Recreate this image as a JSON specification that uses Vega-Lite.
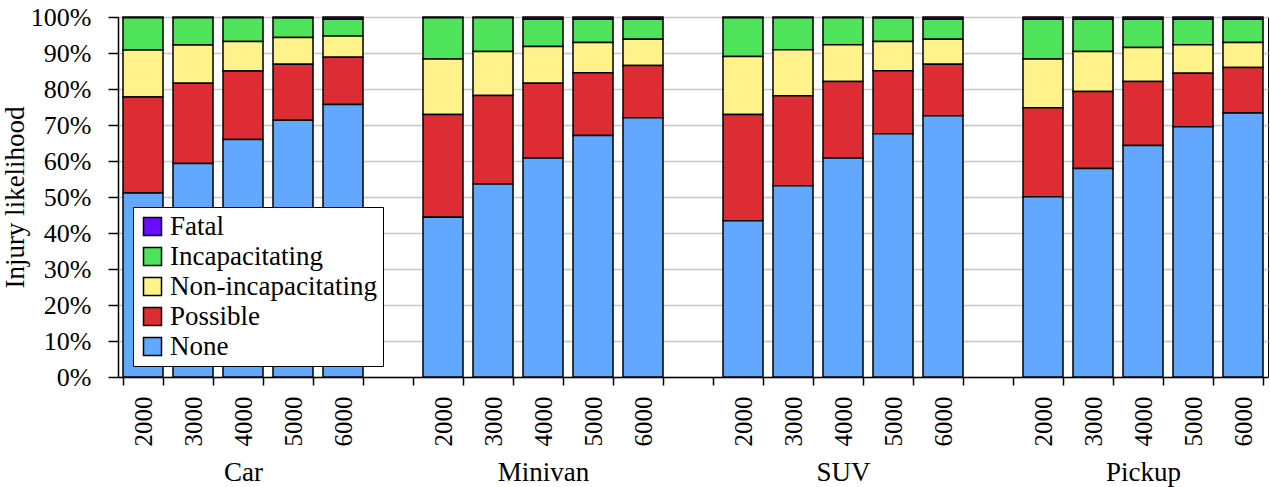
{
  "$schema": "https://vega.github.io/schema/vega-lite/v6.json",
  "width": 1150,
  "height": 360,
  "autosize": {"type": "none"},
  "padding": {"left": 118, "top": 17, "right": 2, "bottom": 110},
  "config": {
    "font": "Liberation Serif, Times New Roman, serif",
    "view": {"stroke": "#000", "strokeWidth": 1},
    "axis": {
      "labelFont": "Liberation Serif, Times New Roman, serif",
      "titleFont": "Liberation Serif, Times New Roman, serif",
      "labelColor": "#000",
      "titleColor": "#000",
      "domainColor": "#000",
      "tickColor": "#000"
    },
    "legend": {
      "labelFont": "Liberation Serif, Times New Roman, serif"
    }
  },
  "datasets": {
    "levels": [
      {"severity": "None", "level": 0},
      {"severity": "Possible", "level": 1},
      {"severity": "Non-incapacitating", "level": 2},
      {"severity": "Incapacitating", "level": 3},
      {"severity": "Fatal", "level": 4}
    ]
  },
  "data": {
    "values": [
      {"vehicle": "Car", "slot": "Car 2000", "None": 51.1, "Possible": 26.7, "Non-incapacitating": 13.0, "Incapacitating": 9.0, "Fatal": 0.2},
      {"vehicle": "Car", "slot": "Car 3000", "None": 59.3, "Possible": 22.3, "Non-incapacitating": 10.6, "Incapacitating": 7.6, "Fatal": 0.2},
      {"vehicle": "Car", "slot": "Car 4000", "None": 66.0, "Possible": 19.0, "Non-incapacitating": 8.2, "Incapacitating": 6.6, "Fatal": 0.2},
      {"vehicle": "Car", "slot": "Car 5000", "None": 71.3, "Possible": 15.6, "Non-incapacitating": 7.4, "Incapacitating": 5.4, "Fatal": 0.3},
      {"vehicle": "Car", "slot": "Car 6000", "None": 75.7, "Possible": 13.1, "Non-incapacitating": 5.9, "Incapacitating": 4.7, "Fatal": 0.6},
      {"vehicle": "Minivan", "slot": "Minivan 2000", "None": 44.4, "Possible": 28.5, "Non-incapacitating": 15.4, "Incapacitating": 11.5, "Fatal": 0.2},
      {"vehicle": "Minivan", "slot": "Minivan 3000", "None": 53.6, "Possible": 24.6, "Non-incapacitating": 12.2, "Incapacitating": 9.4, "Fatal": 0.2},
      {"vehicle": "Minivan", "slot": "Minivan 4000", "None": 60.8, "Possible": 20.8, "Non-incapacitating": 10.2, "Incapacitating": 7.6, "Fatal": 0.6},
      {"vehicle": "Minivan", "slot": "Minivan 5000", "None": 67.1, "Possible": 17.4, "Non-incapacitating": 8.4, "Incapacitating": 6.5, "Fatal": 0.6},
      {"vehicle": "Minivan", "slot": "Minivan 6000", "None": 72.0, "Possible": 14.5, "Non-incapacitating": 7.3, "Incapacitating": 5.6, "Fatal": 0.6},
      {"vehicle": "SUV", "slot": "SUV 2000", "None": 43.4, "Possible": 29.5, "Non-incapacitating": 16.1, "Incapacitating": 10.8, "Fatal": 0.2},
      {"vehicle": "SUV", "slot": "SUV 3000", "None": 53.1, "Possible": 25.0, "Non-incapacitating": 12.8, "Incapacitating": 8.9, "Fatal": 0.2},
      {"vehicle": "SUV", "slot": "SUV 4000", "None": 60.8, "Possible": 21.3, "Non-incapacitating": 10.2, "Incapacitating": 7.5, "Fatal": 0.2},
      {"vehicle": "SUV", "slot": "SUV 5000", "None": 67.6, "Possible": 17.5, "Non-incapacitating": 8.1, "Incapacitating": 6.5, "Fatal": 0.3},
      {"vehicle": "SUV", "slot": "SUV 6000", "None": 72.6, "Possible": 14.3, "Non-incapacitating": 6.9, "Incapacitating": 5.6, "Fatal": 0.6},
      {"vehicle": "Pickup", "slot": "Pickup 2000", "None": 50.1, "Possible": 24.7, "Non-incapacitating": 13.5, "Incapacitating": 11.1, "Fatal": 0.6},
      {"vehicle": "Pickup", "slot": "Pickup 3000", "None": 57.9, "Possible": 21.4, "Non-incapacitating": 11.1, "Incapacitating": 9.0, "Fatal": 0.6},
      {"vehicle": "Pickup", "slot": "Pickup 4000", "None": 64.3, "Possible": 17.8, "Non-incapacitating": 9.4, "Incapacitating": 7.9, "Fatal": 0.6},
      {"vehicle": "Pickup", "slot": "Pickup 5000", "None": 69.5, "Possible": 14.9, "Non-incapacitating": 7.9, "Incapacitating": 7.1, "Fatal": 0.6},
      {"vehicle": "Pickup", "slot": "Pickup 6000", "None": 73.3, "Possible": 12.7, "Non-incapacitating": 6.9, "Incapacitating": 6.5, "Fatal": 0.6}
    ]
  },
  "layer": [
    {
      "transform": [
        {"fold": ["Fatal", "Incapacitating", "Non-incapacitating", "Possible", "None"], "as": ["severity", "value"]},
        {"lookup": "severity", "from": {"data": {"name": "levels"}, "key": "severity", "fields": ["level"]}}
      ],
      "mark": {"type": "bar", "stroke": "#000", "strokeWidth": 1.5},
      "encoding": {
        "x": {
          "field": "slot",
          "type": "nominal",
          "scale": {
            "domain": ["Car 2000", "Car 3000", "Car 4000", "Car 5000", "Car 6000", "gap1",
                       "Minivan 2000", "Minivan 3000", "Minivan 4000", "Minivan 5000", "Minivan 6000", "gap2",
                       "SUV 2000", "SUV 3000", "SUV 4000", "SUV 5000", "SUV 6000", "gap3",
                       "Pickup 2000", "Pickup 3000", "Pickup 4000", "Pickup 5000", "Pickup 6000"],
            "paddingInner": 0.2,
            "paddingOuter": 0.1
          },
          "axis": {
            "orient": "bottom",
            "title": null,
            "labelExpr": "indexof(datum.label, ' ') < 0 ? '' : split(datum.label, ' ')[1]",
            "labelAngle": -90,
            "labelFontSize": 25,
            "tickBand": "extent",
            "tickSize": 8,
            "tickWidth": 1.5,
            "labelPadding": 11,
            "domainWidth": 1.5,
            "grid": false
          }
        },
        "y": {
          "field": "value",
          "type": "quantitative",
          "stack": "normalize",
          "scale": {"domain": [0, 1]},
          "axis": {
            "title": "Injury likelihood",
            "values": [0, 0.1, 0.2, 0.3, 0.4, 0.5, 0.6, 0.7, 0.8, 0.9, 1],
            "format": ".0%",
            "labelFontSize": 26,
            "titleFontSize": 27,
            "titleFontWeight": "normal",
            "tickSize": 10,
            "tickWidth": 1.5,
            "labelPadding": 17,
            "titlePadding": 1,
            "gridColor": "#c8c8c8",
            "gridWidth": 1.5,
            "domainWidth": 1.5
          }
        },
        "color": {
          "field": "severity",
          "type": "nominal",
          "scale": {
            "domain": ["Fatal", "Incapacitating", "Non-incapacitating", "Possible", "None"],
            "range": ["#6a0cff", "#4ee35a", "#fff28a", "#dd2c33", "#62a8fe"]
          },
          "legend": {
            "title": null,
            "orient": "none",
            "legendX": 15,
            "legendY": 190,
            "fillColor": "#fff",
            "strokeColor": "#000",
            "padding": 6,
            "symbolType": "square",
            "symbolSize": 324,
            "symbolStrokeColor": "#000",
            "symbolStrokeWidth": 1.5,
            "symbolOpacity": 1,
            "labelFontSize": 27,
            "labelColor": "#000",
            "labelOffset": 4,
            "labelLimit": 400,
            "rowPadding": 2
          }
        },
        "order": {"field": "level", "type": "quantitative", "sort": "ascending"}
      }
    },
    {
      "mark": {"type": "text", "opacity": 0},
      "encoding": {
        "x": {
          "field": "vehicle",
          "type": "nominal",
          "scale": {"type": "point", "domain": ["Car", "Minivan", "SUV", "Pickup"], "padding": 0.4166667},
          "axis": {
            "orient": "bottom",
            "title": null,
            "domain": false,
            "ticks": false,
            "tickSize": 0,
            "grid": false,
            "labelAngle": 0,
            "labelFontSize": 27,
            "labelPadding": 82,
            "labelBaseline": "top"
          }
        },
        "text": {"field": "vehicle"}
      }
    }
  ],
  "resolve": {"scale": {"x": "independent"}}
}
